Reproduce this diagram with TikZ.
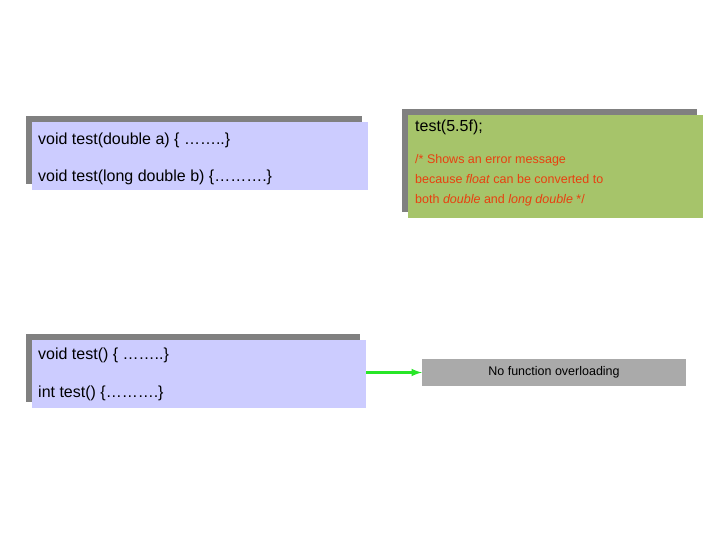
\documentclass[tikz,border=0pt]{standalone}
\usepackage{fontspec}
\setmainfont{Liberation Sans}
\usetikzlibrary{shadows}
\definecolor{codeblue}{RGB}{204,204,255}
\definecolor{codegreen}{RGB}{166,196,106}
\definecolor{errred}{RGB}{232,64,16}
\definecolor{shadowgray}{RGB}{128,128,128}
\definecolor{notegray}{RGB}{170,170,170}
\definecolor{arrowgreen}{RGB}{40,230,40}
\tikzstyle{code}=[anchor=north west, inner sep=0pt, fill=codeblue, drop shadow={shadow xshift=-6pt, shadow yshift=6pt, fill=shadowgray, opacity=1}]
\tikzstyle{call}=[anchor=north west, inner sep=0pt, fill=codegreen, drop shadow={shadow xshift=-6pt, shadow yshift=6pt, fill=shadowgray, opacity=1}]
\tikzstyle{line}=[anchor=west, inner sep=0pt, font=\fontsize{16}{18}\selectfont]
\tikzstyle{err}=[anchor=north west, inner sep=0pt, align=left, text=errred, font=\fontsize{12.5}{20}\selectfont]
\tikzstyle{note}=[fill=notegray, minimum width=264pt, minimum height=27pt, inner sep=0pt, font=\fontsize{12.5}{14}\selectfont]
\tikzstyle{link}=[->, >=latex, draw=arrowgreen, line width=2.5pt]
\begin{document}
\begin{tikzpicture}[x=1pt, y=-1pt]
	\useasboundingbox (0,0) rectangle (720,540);
	%% overloaded by parameter type
	\node[code, minimum width=336pt, minimum height=68pt] (b1) at (32,122) {};
	\node[line] (b1a) at (38,140) {void test(double a) \{ ……..\}};
	\node[line] (b1b) at (38,177) {void test(long double b) \{……….\}};
	%%
	\node[call, minimum width=295pt, minimum height=103pt] (g1) at (408,115) {};
	\node[line] (g1a) at (415,127) {test(5.5f);};
	\node[err] (g1b) at (415,154) {/* Shows an error message\\because \emph{float} can be converted to\\both \emph{double} and \emph{long double} */};
	%%%%%%
	%% overloaded by return type only
	\node[code, minimum width=334pt, minimum height=68pt] (b2) at (32,340) {};
	\node[line] (b2a) at (38,355) {void test() \{ ……..\}};
	\node[line] (b2b) at (38,393) {int test() \{……….\}};
	%%
	\node[note] (n1) at (554,372.5) {No function overloading};
	\draw[link] (b2.east |- n1) -- (n1.west);
\end{tikzpicture}
\end{document}
